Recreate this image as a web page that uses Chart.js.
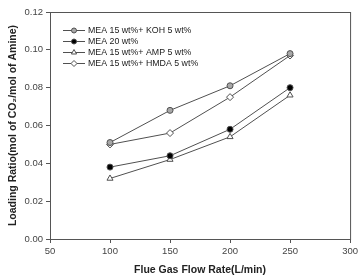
<!DOCTYPE html>
<html>
<head>
<meta charset="utf-8">
<script src="https://cdn.jsdelivr.net/npm/chart.js@4/dist/chart.umd.min.js"></script>
<style>
  html, body { margin: 0; padding: 0; background: #fff; }
  #wrap { width: 361px; height: 276px; position: relative; }
</style>
</head>
<body>
<div id="wrap"><canvas id="chart"></canvas></div>
<script>
const flowRates = [100, 150, 200, 250];
const kohValues = [0.051, 0.068, 0.081, 0.098];
const mea20Values = [0.038, 0.044, 0.058, 0.080];
const ampValues = [0.032, 0.042, 0.054, 0.076];
const hmdaValues = [0.050, 0.056, 0.075, 0.097];
const seriesLabels = ['MEA 15 wt%+ KOH 5 wt%', 'MEA 20 wt%', 'MEA 15 wt%+ AMP 5 wt%', 'MEA 15 wt%+ HMDA 5 wt%'];
const xTicks = [50, 100, 150, 200, 250, 300];
const yTicks = [0, 0.02, 0.04, 0.06, 0.08, 0.10, 0.12];

const lineColor = '#505050';
const font = "'Liberation Sans', Arial, sans-serif";

const toPoints = (vals) => vals.map((v, i) => ({ x: flowRates[i], y: v }));

const makeSet = (label, vals, style, fill) => ({
  label: label,
  data: toPoints(vals),
  borderColor: lineColor,
  borderWidth: 1,
  pointStyle: style,
  pointRadius: style === 'circle' ? 3 : 3.5,
  pointBackgroundColor: fill,
  pointBorderColor: lineColor,
  pointBorderWidth: 1,
  tension: 0,
  fill: false
});

// frame + inset legend
const framePlugin = {
  id: 'framePlugin',
  afterDraw(chart) {
    const ctx = chart.ctx;
    const a = chart.chartArea;
    ctx.save();
    ctx.strokeStyle = '#555';
    ctx.lineWidth = 1;
    ctx.strokeRect(a.left + 0.5, a.top + 0.5, a.right - a.left, a.bottom - a.top);

    let y = a.top + 18;
    chart.data.datasets.forEach((ds) => {
      const x0 = a.left + 13, x1 = a.left + 35;
      ctx.strokeStyle = ds.borderColor;
      ctx.lineWidth = 1;
      ctx.beginPath();
      ctx.moveTo(x0, y + 0.5);
      ctx.lineTo(x1, y + 0.5);
      ctx.stroke();
      ctx.fillStyle = ds.pointBackgroundColor;
      ctx.strokeStyle = ds.pointBorderColor;
      Chart.helpers.drawPoint(ctx, {
        pointStyle: ds.pointStyle,
        radius: ds.pointRadius - 0.5,
        borderWidth: 1,
        rotation: 0
      }, (x0 + x1) / 2, y + 0.5);
      ctx.fillStyle = '#222';
      ctx.font = '8.8px ' + font;
      ctx.textBaseline = 'middle';
      ctx.textAlign = 'left';
      ctx.fillText(ds.label, x1 + 3, y + 1);
      y += 11;
    });
    ctx.restore();
  }
};

new Chart(document.getElementById('chart'), {
  type: 'line',
  data: {
    datasets: [
      makeSet(seriesLabels[0], kohValues, 'circle', '#a8a8a8'),
      makeSet(seriesLabels[1], mea20Values, 'circle', '#000'),
      makeSet(seriesLabels[2], ampValues, 'triangle', '#fff'),
      makeSet(seriesLabels[3], hmdaValues, 'rectRot', '#fff')
    ]
  },
  options: {
    responsive: true,
    maintainAspectRatio: false,
    animation: false,
    layout: { padding: { left: 0, top: 12, right: 6, bottom: 0 } },
    plugins: {
      legend: { display: false },
      tooltip: { enabled: false }
    },
    scales: {
      x: {
        type: 'linear',
        min: 50,
        max: 300,
        afterBuildTicks: (s) => { s.ticks = xTicks.map(v => ({ value: v })); },
        afterFit: (s) => { s.height = 37; },
        grid: { drawOnChartArea: false, drawTicks: true, tickLength: 4, color: '#555' },
        border: { display: true, color: '#555' },
        ticks: { color: '#444', font: { family: font, size: 9.5 }, padding: 3, maxRotation: 0 },
        title: {
          display: true,
          text: 'Flue Gas Flow Rate(L/min)',
          color: '#222',
          font: { family: font, size: 10.5, weight: 'bold' },
          padding: { top: 0, bottom: 0 }
        }
      },
      y: {
        type: 'linear',
        min: 0,
        max: 0.12,
        afterBuildTicks: (s) => { s.ticks = yTicks.map(v => ({ value: v })); },
        afterFit: (s) => { s.width = 50; },
        grid: { drawOnChartArea: false, drawTicks: true, tickLength: 4, color: '#555' },
        border: { display: true, color: '#555' },
        ticks: {
          color: '#444',
          font: { family: font, size: 9.5 },
          padding: 3,
          callback: (v) => v.toFixed(2)
        },
        title: {
          display: true,
          text: 'Loading Ratio(mol of CO\u2082/mol of Amine)',
          color: '#222',
          font: { family: font, size: 10.5, weight: 'bold' },
          padding: { top: 7, bottom: 0 }
        }
      }
    }
  },
  plugins: [framePlugin]
});
</script>
</body>
</html>
